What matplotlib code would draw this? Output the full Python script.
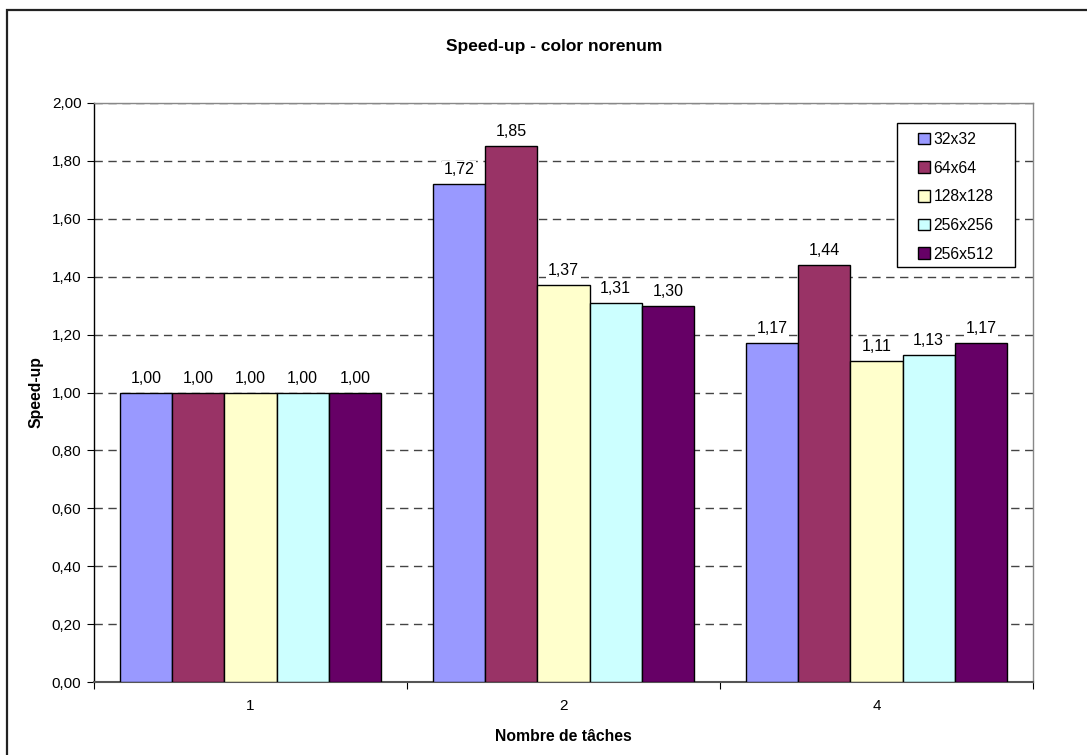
import matplotlib
matplotlib.use("Agg")
import matplotlib.pyplot as plt
from matplotlib.patches import Rectangle
import numpy as np

plt.rcParams['font.family'] = ['Liberation Sans', 'DejaVu Sans']

categories = ['1', '2', '4']
series_names = ['32x32', '64x64', '128x128', '256x256', '256x512']
series_values = [
    [1.00, 1.72, 1.17],
    [1.00, 1.85, 1.44],
    [1.00, 1.37, 1.11],
    [1.00, 1.31, 1.13],
    [1.00, 1.30, 1.17],
]
series_colors = ['#9999FF', '#993366', '#FFFFCC', '#CCFFFF', '#660066']
y_ticks = [0.0, 0.2, 0.4, 0.6, 0.8, 1.0, 1.2, 1.4, 1.6, 1.8, 2.0]

W, H = 1087, 755
fig = plt.figure(figsize=(W / 100, H / 100), dpi=100)
ax = fig.add_axes([94 / W, 1 - 682 / H, (1033 - 94) / W, (682 - 103) / H])


def fig_xy(px, py):
    """Pixel position (from top-left) to figure fraction."""
    return px / W, 1 - py / H


# outer chart frame
fig.patches.append(Rectangle((7 / W, -0.02), 1.1, 0.02 + 1 - 10 / H,
                             transform=fig.transFigure, fill=False,
                             edgecolor='#222222', linewidth=1.6, zorder=0))

x = np.arange(len(categories))
width = 1 / 6
n = len(series_names)
for i, (name, vals, col) in enumerate(zip(series_names, series_values, series_colors)):
    pos = x + (i - (n - 1) / 2) * width
    bars = ax.bar(pos, vals, width=width, color=col, edgecolor='black',
                  linewidth=1.0, label=name, zorder=3)
    for b, v in zip(bars, vals):
        ax.annotate(f"{v:.2f}".replace('.', ','),
                    (b.get_x() + b.get_width() / 2, v),
                    xytext=(0, 5), textcoords='offset points',
                    ha='center', va='bottom', fontsize=11.5, zorder=4,
                    bbox=dict(boxstyle='square,pad=0.1', fc='white', ec='none'))

ax.set_xlim(-0.5, 2.5)
ax.set_ylim(0, 2.0)
ax.set_yticks(y_ticks)
ax.set_yticklabels([f"{t:.2f}".replace('.', ',') for t in y_ticks], fontsize=11)
ax.yaxis.grid(True, linestyle=(0, (6, 4)), color='#444444', linewidth=1.0, zorder=1)
ax.set_axisbelow(True)

ax.set_xticks([-0.5, 0.5, 1.5, 2.5])
ax.set_xticklabels([])
ax.set_xticks(x, minor=True)
ax.set_xticklabels(categories, minor=True, fontsize=11)
ax.tick_params(axis='x', which='major', direction='out', length=5, color='black')
ax.tick_params(axis='x', which='minor', length=0, pad=12)
ax.tick_params(axis='y', direction='out', length=5, color='black', pad=4)

for s in ['top', 'right']:
    ax.spines[s].set_color('#888888')
    ax.spines[s].set_linewidth(1.0)
ax.spines['left'].set_color('black')
ax.spines['left'].set_linewidth(1.0)
ax.spines['bottom'].set_color('#555555')
ax.spines['bottom'].set_linewidth(1.5)

ax.set_ylabel('Speed-up', fontsize=11.3, fontweight='bold', labelpad=6)
ax.set_xlabel('Nombre de tâches', fontsize=11.3, fontweight='bold', labelpad=12)
fig.text(554 / W, 1 - 46 / H, 'Speed-up - color norenum', ha='center', va='center',
         fontsize=12.5, fontweight='bold')

# legend entries without frame, with a separate box drawn around them
leg = fig.legend(loc='upper left', bbox_to_anchor=fig_xy(918, 132),
                 bbox_transform=fig.transFigure,
                 fontsize=11.3, frameon=False,
                 handlelength=0.75, handleheight=0.75, handletextpad=0.25,
                 labelspacing=0.87, borderpad=0, borderaxespad=0)
leg.set_zorder(6)
x0, y0 = fig_xy(897, 267)
x1, y1 = fig_xy(1015, 123)
fig.patches.append(Rectangle((x0, y0), x1 - x0, y1 - y0, transform=fig.transFigure,
                             facecolor='white', edgecolor='black', linewidth=1.0,
                             zorder=5))

fig.savefig('out.png', dpi=100, facecolor='white')
